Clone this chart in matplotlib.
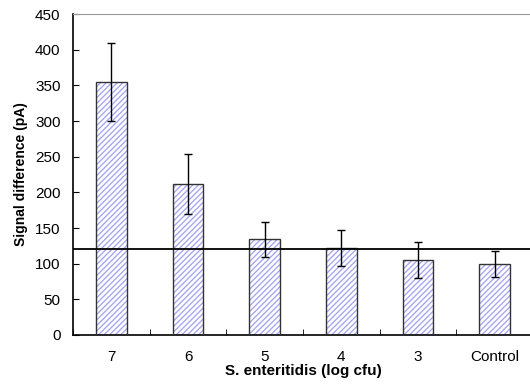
import matplotlib
matplotlib.use("Agg")
import matplotlib.pyplot as plt
import numpy as np

plt.rcParams['font.family'] = ['Liberation Sans', 'DejaVu Sans']
plt.rcParams['hatch.linewidth'] = 1.0

# data
labels = ['7', '6', '5', '4', '3', 'Control']
signal = [355, 212, 134, 122, 105, 100]
errors = [55, 42, 24, 25, 25, 18]
threshold = 120

fig = plt.figure(figsize=(5.3, 3.88), dpi=100)
ax = fig.add_axes([73 / 530, 1 - 335 / 388, 460 / 530, 321 / 388])

x = np.arange(len(labels))
ax.bar(x, signal, width=0.4, color='white', edgecolor='#a8a8f0', hatch='//////', linewidth=0, zorder=2)
ax.bar(x, signal, width=0.4, fill=False, edgecolor='#333333', linewidth=1.0, zorder=3)
ax.errorbar(x, signal, yerr=errors, fmt='none', ecolor='black', elinewidth=1.0, capsize=3, zorder=4)
ax.axhline(threshold, color='black', linewidth=1.3, zorder=5)

ax.set_xlim(-0.5, 5.5)
ax.set_ylim(0, 450)
ax.set_yticks(range(0, 451, 50))
ax.set_xticks(x)
ax.set_xticklabels(labels)
ax.set_xticks(np.arange(-0.5, 5.6, 1), minor=True)
ax.tick_params(axis='x', which='major', length=0, pad=11, labelsize=11)
ax.tick_params(axis='x', which='minor', direction='in', length=4)
ax.tick_params(axis='y', direction='in', length=4, labelsize=11, pad=9)

ax.spines['top'].set_color('#999999')
ax.spines['right'].set_visible(False)
ax.spines['left'].set_linewidth(1.2)
ax.spines['bottom'].set_linewidth(1.2)

ax.set_xlabel('S. enteritidis (log cfu)', fontweight='bold', fontsize=11, labelpad=0)
ax.set_ylabel('Signal difference (pA)', fontweight='bold', fontsize=10, labelpad=5)

fig.savefig('out.png', dpi=100)
